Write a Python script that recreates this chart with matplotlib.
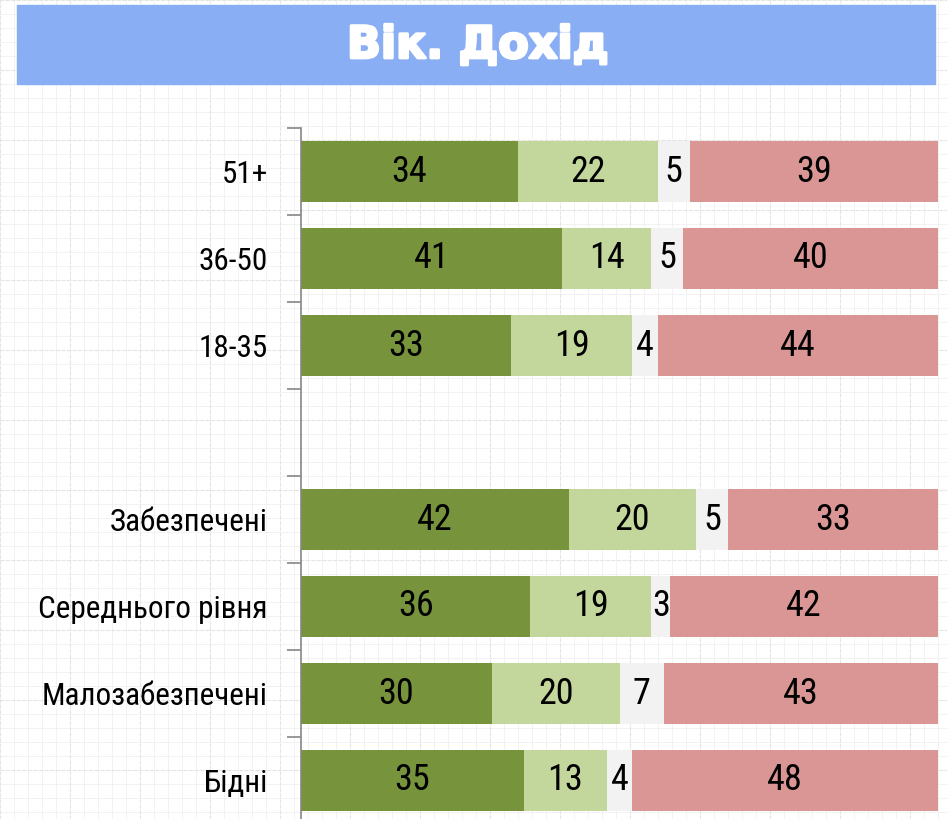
import matplotlib.pyplot as plt
import matplotlib.patheffects as pe
import numpy as np

plt.rcParams['font.family'] = ['Roboto Condensed', 'DejaVu Sans']

categories = ['51+', '36-50', '18-35', '', 'Забезпечені', 'Середнього рівня',
              'Малозабезпечені', 'Бідні']
dark_green = [34, 41, 33, 0, 42, 36, 30, 35]
light_green = [22, 14, 19, 0, 20, 19, 20, 13]
grey_part = [5, 5, 4, 0, 5, 3, 7, 4]
pink_part = [39, 40, 44, 0, 33, 42, 43, 48]

series = [dark_green, light_green, grey_part, pink_part]
colors = ['#77933C', '#C3D69B', '#F2F2F2', '#D99694']

fig = plt.figure(figsize=(9.47, 8.19), dpi=100)

# faint graph-paper background
bg = fig.add_axes([0, 0, 1, 1], zorder=-10)
bg.set_xlim(0, 947)
bg.set_ylim(819, 0)
bg.axis('off')
for x in np.arange(0, 947, 14):
    bg.axvline(x, color='#F0F0F0', lw=0.6)
for y in np.arange(0, 819, 14):
    bg.axhline(y, color='#F0F0F0', lw=0.6)
for x in np.arange(0, 947, 70):
    bg.axvline(x, color='#E4E4E4', lw=0.8, ls=(0, (3, 2)))
for y in np.arange(0, 819, 70):
    bg.axhline(y, color='#E4E4E4', lw=0.8, ls=(0, (3, 2)))

# title banner
bg.add_patch(plt.Rectangle((17, 5), 918, 79, color='#8AAEF4', zorder=2))
bg.text(478, 58, 'Вік. Дохід', color='white', fontsize=32, fontweight='bold',
        family=['DejaVu Sans'], ha='center', va='baseline', zorder=3,
        path_effects=[pe.withStroke(linewidth=2, foreground='white')])

ax = fig.add_axes([301 / 947, 1 - 824 / 819, 637 / 947, 696 / 819])
ax.patch.set_alpha(0)

y = np.arange(len(categories))
left = np.zeros(len(categories))
for vals, col in zip(series, colors):
    vals = np.array(vals, dtype=float)
    bars = ax.barh(y, vals, left=left, height=0.71, color=col)
    labels = [str(int(v)) if v > 0 else '' for v in vals]
    ax.bar_label(bars, labels=labels, label_type='center', fontsize=26, color='black')
    left += vals

ax.set_xlim(0, 100)
ax.set_ylim(len(categories) - 0.5, -0.5)
ax.set_yticks(y)
ax.set_yticklabels(categories, fontsize=22.5)
ax.set_yticks(np.arange(-0.5, len(categories), 1), minor=True)
ax.tick_params(axis='y', which='major', length=0, pad=24)
ax.tick_params(axis='y', which='minor', length=10, color='#868686', width=1.2)
ax.set_xticks([])
for s in ['top', 'right', 'bottom']:
    ax.spines[s].set_visible(False)
ax.spines['left'].set_color('#868686')
ax.spines['left'].set_linewidth(1.2)

fig.savefig('out.png', dpi=100)
